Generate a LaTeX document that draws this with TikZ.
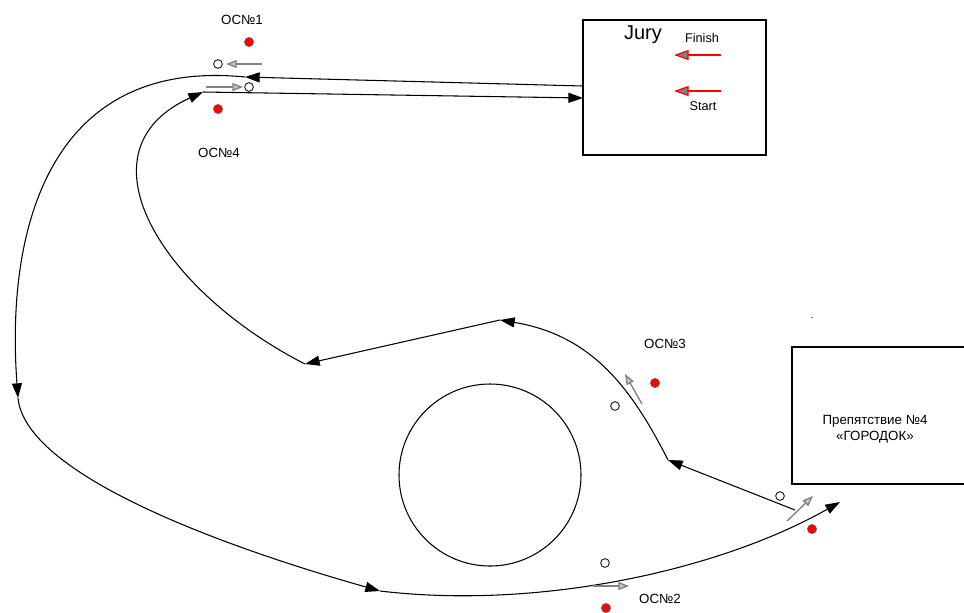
\documentclass[tikz,border=0pt]{standalone}
\usepackage{fontspec}
\setmainfont{Liberation Sans}
\usetikzlibrary{arrows.meta}

\begin{document}
\begin{tikzpicture}[x=0.75pt,y=-0.75pt,line width=0.8pt,
  arr/.style={-{Triangle[length=11pt,width=7.5pt]}},
  garr/.style={gray,line width=1pt,-{Triangle[length=8pt,width=6pt,fill=gray!45]}},
  rarr/.style={red,line width=0.9pt,-{Triangle[length=11pt,width=7.5pt,fill=gray]}},
  opn/.style={draw,fill=white,circle,inner sep=0pt,minimum size=6.5pt,line width=0.6pt},
  rdot/.style={draw=black!60,fill=red,circle,inner sep=0pt,minimum size=7pt,line width=0.4pt},
  lbl/.style={font=\fontsize{10}{12}\selectfont,inner sep=0pt}]
\useasboundingbox (0,0) rectangle (964,612);
\clip (0,0) rectangle (964,612);

% boxes
\draw (583,20) rectangle (766,155);
\node[font=\fontsize{15}{18}\selectfont,inner sep=0pt] (jury) at (643,35) {Jury};
\node[lbl,font=\fontsize{9.5}{11}\selectfont] (finish) at (702,38) {Finish};
\node[lbl,font=\fontsize{9.5}{11}\selectfont] (start) at (703,106) {Start};
\draw (792,347) rectangle (970,484);
\node[lbl,align=center] (obst) at (875,429) {Препятствие №4\\«ГОРОДОК»};
\fill[gray] (811,316.5) rectangle (813,317.5);

% obstacle circle
\draw (490,475) circle[radius=91];

% points of the track
\coordinate (jt) at (583,86);
\coordinate (jb) at (583,98);
\coordinate (p1) at (245,77);
\coordinate (p2) at (18,398);
\coordinate (p3) at (380,591);
\coordinate (p4) at (840,502);
\coordinate (q0) at (795,510);
\coordinate (q1) at (668,460);
\coordinate (q2) at (500,320);
\coordinate (q3) at (305,364);
\coordinate (q4) at (203,92);

\draw[arr] (jt) -- (p1);
\draw[arr] (p1) .. controls (55,58) and (5,220) .. (p2);
\draw[arr] (p2) .. controls (25,470) and (200,540) .. (p3);
\draw[arr] (p3) .. controls (540,610) and (720,570) .. (p4);
\draw[arr] (q0) -- (q1);
\draw[arr] (q1) .. controls (630,385) and (590,335) .. (q2);
\draw[arr] (q2) -- (q3);
\draw[arr] (q3) .. controls (160,290) and (75,150) .. (q4);
\draw[arr] (q4) -- (jb);

% jury arrows
\coordinate (fs) at (721,55); \coordinate (fe) at (674,55);
\coordinate (ss) at (721,91); \coordinate (se) at (674,91);
\draw[rarr] (fs) -- (fe);
\draw[rarr] (ss) -- (se);

% control points
\node[lbl] (ocn1) at (242,20) {ОС№1};
\node[rdot] (r1) at (249,42) {};
\node[opn] (o1) at (218,64) {};
\coordinate (g1s) at (262,64); \coordinate (g1e) at (226,64);
\draw[garr] (g1s) -- (g1e);

\node[lbl] (ocn4) at (219,153) {ОС№4};
\node[rdot] (r4) at (218,109) {};
\node[opn] (o4) at (249,87) {};
\coordinate (g4s) at (206,87); \coordinate (g4e) at (243,87);
\draw[garr] (g4s) -- (g4e);

\node[lbl] (ocn3) at (665,344) {ОС№3};
\node[rdot] (r3) at (655,383) {};
\node[opn] (o3) at (615,406) {};
\coordinate (g3s) at (642,404); \coordinate (g3e) at (625,374);
\draw[garr] (g3s) -- (g3e);

\node[rdot] (r5) at (812,529) {};
\node[opn] (o5) at (780,496) {};
\coordinate (g5s) at (787,521); \coordinate (g5e) at (813,496);
\draw[garr] (g5s) -- (g5e);

\node[lbl] (ocn2) at (660,599) {ОС№2};
\node[rdot] (r2) at (606,608) {};
\node[opn] (o2) at (605,563) {};
\coordinate (g2s) at (593,586); \coordinate (g2e) at (629,586);
\draw[garr] (g2s) -- (g2e);

\end{tikzpicture}
\end{document}
